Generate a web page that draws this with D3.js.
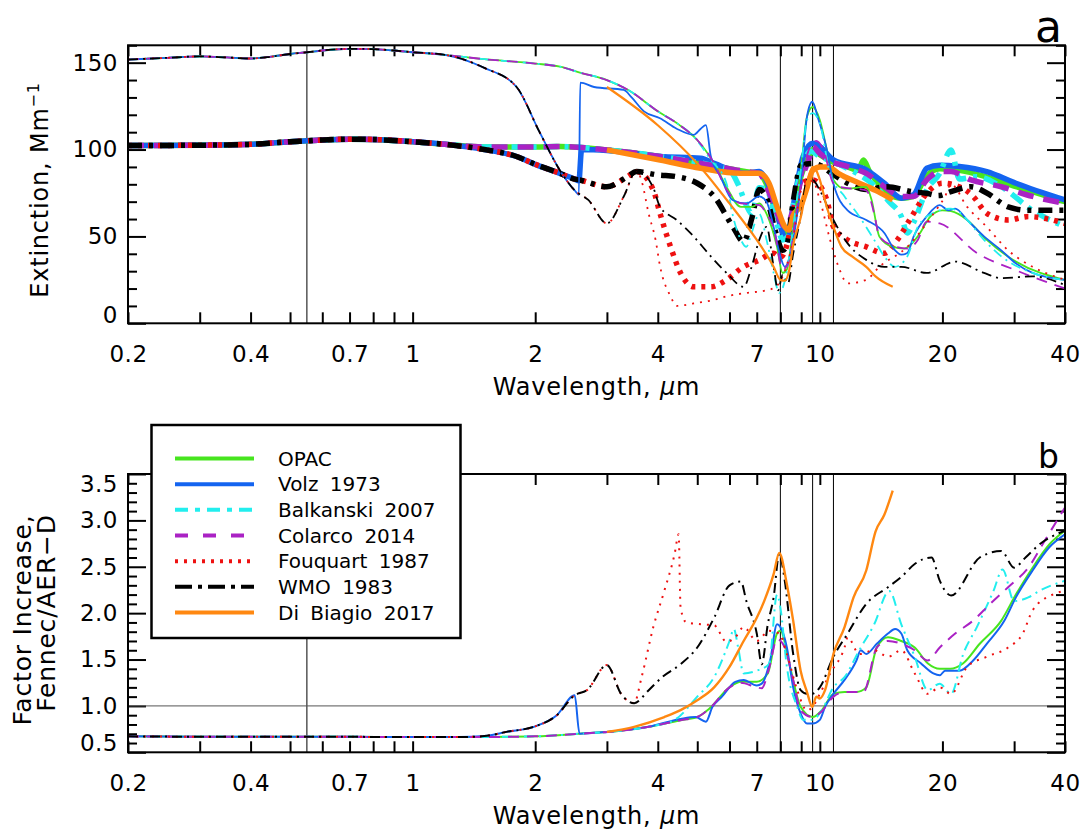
<!DOCTYPE html>
<html>
<head>
<meta charset="utf-8">
<script src="https://cdn.jsdelivr.net/npm/d3@7"></script>
<style>
  body { margin: 0; background: #fff; }
  text { font-family: "DejaVu Sans", sans-serif; fill: #000; }
</style>
</head>
<body>
<svg id="chart" width="1083" height="830"></svg>
<script>
// ---- data ----
const models = ["OPAC", "Volz 1973", "Balkanski 2007", "Colarco 2014", "Fouquart 1987", "WMO 1983", "Di Biagio 2017"];
const wavelengthTicks = [0.2, 0.3, 0.4, 0.5, 0.6, 0.7, 0.8, 0.9, 1, 2, 3, 4, 5, 6, 7, 8, 9, 10, 20, 30, 40];
const wavelengthLabels = [0.2, 0.4, 0.7, 1, 2, 4, 7, 10, 20, 40];
const extinctionLabels = [0, 50, 100, 150];
const factorLabels = [0.5, 1.0, 1.5, 2.0, 2.5, 3.0, 3.5];
const markerWavelengths = [0.55, 8.0, 9.6, 10.8];

// panel a, thin lines (upper group, Fennec) - shared short wavelength part
const fennecShort = [[0.2,151.8],[0.25,152.8],[0.3,153.6],[0.35,153],[0.4,152.4],[0.45,153.5],[0.5,155],[0.55,156],[0.6,157],[0.7,158],[0.8,157.8],[0.9,157],[1.0,156],[1.2,154.5]];
const fennecTop = [[1.5,152],[2.0,149.5],[2.3,147.7],[2.6,144],[3.0,140],[3.4,134],[4.0,122],[4.5,114.5]];
const fennecDrop = [[1.5,147],[1.8,136],[2.05,110],[2.3,88],[2.5,76.5]];

const opacFennec = [...fennecShort, ...fennecTop, [5.0,105.5],[5.5,92],[5.9,78.5],[6.4,67],[6.8,67],[7.1,69],[7.4,63],[7.85,44],[8.1,29],[8.3,31],[8.6,55.5],[9.0,90],[9.3,119],[9.6,124.5],[10,117],[10.4,100],[10.8,82.5],[11.5,77.5],[13,78.5],[13.4,71],[14,50],[15.1,44],[16.1,43],[17.4,50],[18.7,61.5],[20,65],[21,64.5],[23,59.5],[25.7,48],[30.3,35.5],[40,25]];
const volzFennec = [...fennecShort, ...fennecDrop, [2.56,74],[2.58,138.5],[2.79,136],[3.3,134.3],[3.45,130],[3.7,122],[4.05,118],[4.45,112],[4.9,108.5],[5.1,112],[5.25,114],[5.4,96],[5.7,84.5],[6.1,71],[6.6,69],[7.1,73],[7.4,70],[7.7,55.5],[8.0,38.5],[8.2,32.5],[8.6,48],[9.0,82.5],[9.3,119],[9.58,127.5],[9.9,118],[10.4,100],[10.8,80.5],[11.7,65],[13,59.5],[14.4,52],[15.3,42],[15.85,39.5],[16.4,40.5],[17,50],[18.3,61.5],[19.7,68],[20.7,65],[21.5,66],[23,59.5],[25.3,50],[27.9,42],[30.3,34.5],[33.3,29],[40,25]];
const balkanskiFennec = [...fennecShort, ...fennecTop, [4.9,107.5],[5.4,94],[5.9,80.5],[6.1,63],[6.4,48],[6.6,44],[6.8,52],[7.1,63],[7.4,48],[7.7,29],[7.95,17.5],[8.3,30],[8.6,55.5],[9.0,90],[9.3,117],[9.6,121],[10,115],[10.6,86],[11.5,73],[12.5,61.5],[13.6,48],[14.4,38.5],[15.3,32.5],[16.4,38.5],[17.4,55.5],[19,63.5],[20.9,66],[22,64],[23,59.5],[25.3,48],[27.9,38.5],[33.3,29],[40,25]];
const colarcoFennec = [...fennecShort, ...fennecTop, [5.0,105.5],[5.5,92],[5.9,77],[6.4,69],[6.8,68.5],[7.1,68],[7.4,63],[7.7,55],[8.1,31],[8.4,35],[8.7,60],[9.0,80],[9.4,100],[9.8,105],[10.2,100],[10.8,80.5],[11.2,78.5],[13,76.5],[13.6,63],[14,50],[15,45],[16.4,43],[17.4,48],[18.3,58.5],[19.7,57.5],[24.3,40.5],[30.3,30.5],[40,20]];
const fouquartFennec = [...fennecShort, ...fennecDrop, [2.7,71],[3.0,57.5],[3.3,73],[3.55,88],[3.65,82],[3.8,63],[3.95,48],[4.05,33],[4.3,15.5],[4.45,10],[4.9,11.5],[5.5,13.5],[5.9,15.5],[6.6,17.5],[7.4,19],[7.8,21],[8.2,30],[8.6,48],[9.0,76.5],[9.6,82],[10.0,71],[10.6,48],[11.2,30.5],[11.7,23],[13,25],[14,32.5],[16.4,44],[19,63],[20.3,73],[21,80],[23,67],[25.7,55.5],[29,42],[33.3,32.5],[40,25]];
const wmoFennec = [...fennecShort, ...fennecDrop, [2.7,71],[3.0,57.5],[3.3,73],[3.55,88],[3.9,78],[4.05,67],[4.45,59.5],[4.9,50],[5.4,38.5],[5.9,29],[6.5,21],[6.8,32.5],[7.1,48],[7.4,55.5],[7.7,32.5],[7.9,19],[8.1,28],[8.35,23],[8.6,40],[9.0,63],[9.3,82.5],[9.6,82.5],[10.0,76.5],[10.8,59.5],[11.7,46],[13,36.5],[14.4,32.5],[15.85,32.5],[18.3,29],[21.5,35.5],[25.3,29],[27.9,26],[33.3,27],[40,22]];
const diBiagioFennec = [[3.0,136],[4.0,114],[5.0,92],[6.0,69],[7.0,48],[7.7,32.6],[8.0,25],[8.2,24.5],[8.4,30],[8.6,45],[9.0,62],[9.3,80],[9.6,90],[9.8,88],[10,82.5],[10.4,67],[10.8,55.5],[11.3,44],[12,38.5],[13,32.5],[13.7,27],[15.1,21]];

// panel a, thick lines (lower group, AER-D)
const aerdShort = [[0.2,102.3],[0.3,102.5],[0.4,103],[0.5,104.5],[0.55,105],[0.6,105.5],[0.7,106],[0.8,105.8],[1.0,104.5],[1.2,103]];
const aerdTop = [[1.5,101.5],[2.0,101.5],[2.3,101.7],[3.0,99.8],[4.05,96],[5.4,91]];
const aerdDrop = [[1.5,100],[1.8,96],[2.0,91.5],[2.3,86.3],[2.5,83]];

const opacAerd = [...aerdShort, ...aerdTop, [6.6,87.3],[7.1,86.3],[7.4,80],[7.85,62],[8.2,53],[8.4,52],[8.6,62],[9.0,85],[9.5,98],[9.6,100],[10,97],[10.5,94],[11.7,90],[12.4,88],[12.8,94],[13.2,88],[13.7,82.5],[14.6,75],[15.85,72],[17,73],[18.3,85],[19.7,89],[22,88],[25,85],[30,79],[40,70]];
const volzAerd = [...aerdShort, ...aerdDrop, [2.56,82],[2.6,100],[3.0,99.5],[4.05,96],[5.1,95],[5.5,92],[6.6,86.3],[7.1,87.3],[7.4,82],[7.85,63.3],[8.1,52],[8.35,48],[8.6,67],[9.1,96],[9.6,103.6],[10,101.7],[10.8,94],[13,88.3],[14.4,80.6],[15.85,72],[17,74],[18.3,89.2],[19.7,91],[22,90.2],[25.7,87.3],[30.3,80.6],[40,71]];
const balkanskiAerd = [...aerdShort, ...aerdTop, [6.0,88],[6.3,80],[6.6,68],[6.8,63],[7.1,78],[7.4,77],[7.8,60],[8.1,48],[8.35,50],[8.6,68],[9.0,88],[9.5,99],[10,96],[10.8,93],[11.5,90],[12.4,86],[13.5,80],[14.8,70],[15.85,61.5],[16.4,52],[17,58],[18.3,76.7],[19.7,86.3],[21,99.8],[22,83],[24.3,84.4],[27.9,78.6],[33.3,65],[40,55.6]];
const colarcoAerd = [...aerdShort, ...aerdTop, [6.6,87.3],[7.1,86.3],[7.4,78.6],[7.85,63.3],[8.2,55.6],[8.4,58],[8.6,66],[9.0,82.5],[9.5,97.8],[9.6,101.7],[10,97.8],[10.5,94],[11.7,90.2],[13,86.3],[14.4,78.6],[15.85,73],[17,73],[18.3,82.5],[19.7,87.3],[21,87.3],[23.5,82.5],[27.9,78.6],[33.3,73],[40,69]];
const fouquartAerd = [...aerdShort, ...aerdDrop, [2.57,82.5],[3.0,78.6],[3.37,84.4],[3.55,87.3],[3.9,76.7],[4.05,63.3],[4.3,44],[4.55,29],[4.9,21],[5.4,21],[5.9,25],[6.5,32.6],[7.1,36.4],[7.7,40.3],[8.0,38],[8.3,45],[8.6,63.3],[9.0,80.6],[9.6,82.5],[10.4,71],[10.8,55.6],[11.7,48],[13,44],[14.4,40.3],[15.5,48],[16.8,61.4],[18.3,74.8],[20,80.6],[22,78.6],[23.8,73],[25.7,63.3],[29,59.5],[32.5,61.4],[40,57.5]];
const wmoAerd = [...aerdShort, ...aerdDrop, [2.57,82.5],[3.0,78.6],[3.37,84.4],[3.55,87.3],[4.0,85.4],[4.45,84.4],[5.0,80.6],[5.5,73],[6.1,56],[6.5,47],[6.8,60],[7.1,77],[7.4,72],[7.8,52],[8.1,42],[8.3,45],[8.6,70],[9.0,91],[9.6,92],[10,91],[10.7,86.3],[11.7,80.6],[13,77],[14.6,78.6],[16.8,75.8],[18.3,74.8],[19.5,73.5],[21,75.8],[23.5,78.6],[25.7,75],[29,67],[32.5,65],[40,65]];
const diBiagioAerd = [[3.0,99.8],[4.05,94],[5.1,89.2],[6.4,86.3],[7.1,86.3],[7.5,80.6],[7.85,67],[8.2,55.6],[8.4,53.7],[8.6,62],[9.0,68],[9.3,78],[9.6,88],[10,90],[10.5,90],[11.1,86.3],[12.5,80.6],[13.9,75.8],[15.1,71]];

// panel b, factor increase Fennec / AER-D
const ratioShort = [[0.2,0.672],[0.3,0.668],[0.5,0.668],[0.7,0.667],[1.0,0.664],[1.3,0.664]];
const ratioLow = [[1.5,0.665],[2.0,0.672],[2.57,0.70],[3.2,0.73],[3.8,0.775]];
const ratioRise = [[1.5,0.675],[1.7,0.72],[2.0,0.78],[2.26,0.9],[2.5,1.115]];

const opacRatio = [...ratioShort, ...ratioLow, [4.55,0.846],[5.0,0.88],[5.35,0.97],[6.0,1.2],[6.4,1.26],[7.0,1.26],[7.45,1.35],[7.85,1.78],[8.0,1.81],[8.45,1.42],[8.97,0.99],[9.6,0.88],[10.1,0.95],[10.8,1.13],[11.5,1.15],[12.3,1.15],[13,1.2],[13.8,1.63],[14.7,1.74],[15.85,1.7],[17.1,1.63],[18.4,1.46],[19.7,1.4],[20.9,1.4],[22.5,1.46],[24.7,1.67],[27.9,1.92],[30.3,2.2],[33.3,2.49],[36.6,2.74],[40,2.89]];
const volzRatio = [...ratioShort, ...ratioRise, [2.57,0.70],[3.0,0.72],[3.8,0.775],[4.55,0.86],[4.95,0.88],[5.25,0.83],[5.45,0.99],[5.75,1.1],[6.2,1.26],[6.5,1.28],[7.0,1.22],[7.2,1.24],[7.55,1.49],[7.85,1.88],[8.0,1.85],[8.3,1.63],[8.6,1.2],[8.97,0.92],[9.3,0.81],[9.6,0.81],[10,0.85],[10.3,0.99],[10.8,1.13],[11.5,1.28],[12.3,1.49],[12.6,1.6],[13,1.56],[13.8,1.67],[14.7,1.78],[15.3,1.83],[15.85,1.78],[16.4,1.6],[17.7,1.46],[19,1.35],[19.7,1.33],[20.3,1.38],[22,1.38],[23.8,1.49],[25.7,1.67],[28.4,1.92],[30.3,2.17],[33.3,2.46],[36.6,2.71],[40,2.85]];
const balkanskiRatio = [...ratioShort, ...ratioLow, [4.4,0.85],[5.0,1.1],[5.5,1.31],[6.0,1.7],[6.15,1.83],[6.3,1.63],[6.5,1.35],[7.0,1.38],[7.5,1.45],[7.85,2.2],[8.0,2.06],[8.3,1.42],[8.8,0.99],[9.1,0.85],[9.6,0.85],[10.1,0.95],[10.8,1.2],[11.5,1.31],[12.5,1.6],[13.6,1.88],[14.8,2.24],[15.85,1.88],[17.1,1.53],[18.4,1.17],[19.7,1.24],[21,1.13],[22.5,1.56],[24.3,1.85],[26.7,2.24],[28.1,2.47],[30,2.13],[32.5,2.17],[34.6,2.24],[40,2.35]];
const colarcoRatio = [...ratioShort, ...ratioLow, [4.55,0.846],[5.0,0.88],[5.35,0.97],[6.0,1.2],[6.4,1.25],[7.0,1.2],[7.2,1.19],[7.5,1.4],[7.85,1.72],[8.2,1.63],[8.6,1.28],[8.97,0.95],[9.6,0.88],[10.1,0.94],[10.8,1.1],[11.5,1.15],[12.8,1.15],[13.8,1.63],[14.7,1.7],[15.85,1.67],[17.1,1.6],[18.4,1.49],[19.7,1.63],[21.5,1.78],[23.8,1.92],[26.2,2.1],[29,2.28],[32.5,2.49],[36,2.81],[40,3.14]];
const fouquartRatio = [...ratioShort, ...ratioRise, [2.68,1.17],[3.0,1.44],[3.25,1.13],[3.5,1.03],[3.65,1.31],[3.9,1.85],[4.15,2.24],[4.4,2.64],[4.5,2.85],[4.55,2.06],[4.7,1.9],[5.1,1.88],[5.5,1.87],[5.9,1.69],[6.2,1.74],[6.5,1.85],[7.0,1.7],[7.5,1.81],[7.95,1.78],[8.3,1.56],[8.8,1.17],[9.3,0.95],[9.6,0.99],[10,1.13],[10.6,1.35],[11.5,1.63],[11.7,1.74],[12.5,1.56],[13.6,1.6],[14.7,1.53],[15.85,1.6],[17.1,1.35],[18.4,1.13],[19.7,1.2],[21,1.13],[23,1.42],[25.7,1.53],[29,1.63],[31.5,1.78],[33.3,2.03],[37.3,2.2],[40,2.24]];
const wmoRatio = [...ratioShort, ...ratioRise, [2.68,1.17],[3.0,1.44],[3.25,1.13],[3.5,1.03],[3.8,1.17],[4.1,1.31],[4.55,1.45],[5.0,1.63],[5.5,1.95],[6.0,2.3],[6.4,2.34],[6.6,2.13],[7.0,1.78],[7.2,1.45],[7.45,1.88],[7.7,2.17],[7.95,2.64],[8.2,2.35],[8.6,1.56],[8.97,1.17],[9.3,1.13],[9.58,1.13],[10.0,1.2],[10.8,1.53],[11.7,1.78],[13,2.1],[14.7,2.28],[15.85,2.39],[17.1,2.53],[18.8,2.6],[19.7,2.35],[21,2.19],[24.7,2.6],[27.9,2.67],[30,2.49],[32,2.6],[34.6,2.74],[40,2.89]];
const diBiagioRatio = [[3.0,0.72],[3.5,0.775],[4.15,0.88],[4.55,0.954],[5.0,1.06],[5.5,1.2],[6.0,1.42],[6.5,1.7],[7.0,1.95],[7.3,2.13],[7.7,2.42],[7.95,2.65],[8.3,2.31],[8.6,1.92],[8.97,1.38],[9.3,1.15],[9.58,0.99],[9.8,1.1],[10,1.08],[10.3,1.17],[10.8,1.56],[11.5,1.85],[12.1,2.17],[13,2.46],[13.7,2.88],[14.4,3.06],[15.1,3.32]];

const fennecSeries = [opacFennec, volzFennec, balkanskiFennec, colarcoFennec, fouquartFennec, wmoFennec, diBiagioFennec];
const aerdSeries = [opacAerd, volzAerd, balkanskiAerd, colarcoAerd, fouquartAerd, wmoAerd, diBiagioAerd];
const ratioSeries = [opacRatio, volzRatio, balkanskiRatio, colarcoRatio, fouquartRatio, wmoRatio, diBiagioRatio];

// ---- styles ----
const colors = ["#47e51f", "#1464f0", "#22eeee", "#aa22c4", "#ee1111", "#000000", "#ff8811"];
const lineStyles = ["solid", "solid", "dashdot", "dash", "dot", "dashdot", "solid"];
const legendDash = [null, null, "13,7,5,7", "13,15", "3,6", "17,6,4,6", null];

function dashFor(style, thick) {
    if (style === "dash") return thick ? "16,10" : "11,8";
    if (style === "dashdot") return thick ? "14,7,4,7" : "10,5,2,5";
    if (style === "dot") return thick ? "4,6" : "2,6";
    return null;
}

// ---- layout ----
const svg = d3.select("#chart");
const left = 128, right = 1065;
const x = d3.scaleLog().domain([0.2, 40]).range([left, right]);
const yA = d3.scaleLinear().domain([0, 160]).range([323.3, 45.3]);
const yB = d3.scaleLinear().domain([0.5, 3.5]).range([752.3, 474]);

const labelSet = new Set(wavelengthLabels);

svg.append("defs").selectAll("clipPath")
    .data([["clipA", yA], ["clipB", yB]])
    .enter().append("clipPath").attr("id", d => d[0])
    .append("rect")
    .attr("x", left).attr("y", d => d[1].range()[1])
    .attr("width", right - left).attr("height", d => d[1].range()[0] - d[1].range()[1]);

function styleAxis(g) {
    g.select(".domain").remove();
    g.selectAll("line").attr("stroke", "#000").attr("stroke-width", 2);
    g.attr("font-family", null).attr("font-size", null);
    g.selectAll("text").style("font-size", "23px").style("letter-spacing", "0.5px");
}

function drawFrame(y, clipId, yMinor, yMajor, yFormat) {
    const top = y.range()[1], bottom = y.range()[0];
    const g = svg.append("g");

    // reference lines
    g.selectAll("line.ref").data(markerWavelengths).enter().append("line")
        .attr("x1", d => x(d)).attr("x2", d => x(d))
        .attr("y1", top).attr("y2", bottom)
        .attr("stroke", "#000").attr("stroke-width", 1);

    // x axes (ticks inward)
    g.append("g").attr("transform", `translate(0,${bottom})`)
        .call(d3.axisBottom(x).tickValues(wavelengthTicks).tickSize(-11)
            .tickFormat(d => labelSet.has(d) ? d3.format("~g")(d) : ""))
        .call(styleAxis)
        .call(a => a.selectAll("text").attr("y", 38.5).attr("dy", 0));
    g.append("g").attr("transform", `translate(0,${top})`)
        .call(d3.axisTop(x).tickValues(wavelengthTicks).tickSize(-11).tickFormat(""))
        .call(styleAxis);

    // y axes
    g.append("g").attr("transform", `translate(${left},0)`)
        .call(d3.axisLeft(y).tickValues(yMinor).tickSize(-9).tickFormat(""))
        .call(styleAxis);
    const major = g.append("g").attr("transform", `translate(${left},0)`)
        .call(d3.axisLeft(y).tickValues(yMajor).tickSize(-18).tickFormat(yFormat))
        .call(styleAxis);
    major.selectAll("text").attr("x", -10);
    g.append("g").attr("transform", `translate(${right},0)`)
        .call(d3.axisRight(y).tickValues(yMinor).tickSize(-9).tickFormat(""))
        .call(styleAxis);
    g.append("g").attr("transform", `translate(${right},0)`)
        .call(d3.axisRight(y).tickValues(yMajor).tickSize(-18).tickFormat(""))
        .call(styleAxis);

    return { g, major, top, bottom };
}

function drawCurves(y, clipId, series, width, thick) {
    const line = d3.line()
        .x(d => x(d[0]))
        .y(d => y(d[1]))
        .curve(d3.curveMonotoneX);
    svg.append("g").attr("clip-path", `url(#${clipId})`)
        .selectAll("path").data(series).enter().append("path")
        .attr("d", line)
        .attr("fill", "none")
        .attr("stroke", (d, i) => colors[i])
        .attr("stroke-width", (d, i) => (i === 6 && !thick) ? width + 0.4 : width)
        .attr("stroke-dasharray", (d, i) => dashFor(lineStyles[i], thick))
        .attr("stroke-linejoin", "round");
}

// ---- panel a ----
const frameA = drawFrame(yA, "clipA", d3.range(0, 161, 10).filter(v => v % 50 !== 0), extinctionLabels, d3.format("d"));
frameA.major.selectAll(".tick text").filter(d => d === 0).attr("dy", "-0.05em");
drawCurves(yA, "clipA", aerdSeries, 5.5, true);
drawCurves(yA, "clipA", fennecSeries, 1.8, false);
svg.append("rect").attr("x", left).attr("y", frameA.top)
    .attr("width", right - left).attr("height", frameA.bottom - frameA.top)
    .attr("fill", "none").attr("stroke", "#000").attr("stroke-width", 2);

// ---- panel b ----
const minorB = d3.range(5, 36).map(v => v / 10).filter(v => Math.round(v * 10) % 5 !== 0);
const frameB = drawFrame(yB, "clipB", minorB, factorLabels, d3.format(".1f"));
frameB.major.selectAll(".tick text").filter(d => d === 0.5).attr("dy", "-0.08em");
frameB.major.selectAll(".tick text").filter(d => d === 3.5).attr("dy", "0.75em");
frameB.g.append("line")
    .attr("x1", left).attr("x2", right)
    .attr("y1", yB(1)).attr("y2", yB(1))
    .attr("stroke", "#555").attr("stroke-width", 1);
drawCurves(yB, "clipB", ratioSeries, 2, false);
svg.append("rect").attr("x", left).attr("y", frameB.top)
    .attr("width", right - left).attr("height", frameB.bottom - frameB.top)
    .attr("fill", "none").attr("stroke", "#000").attr("stroke-width", 2);

// ---- titles ----
[yA, yB].forEach(y => {
    const t = svg.append("text")
        .attr("x", (left + right) / 2).attr("y", y.range()[0] + 72)
        .attr("text-anchor", "middle").style("font-size", "24px").style("letter-spacing", "0.8px");
    t.append("tspan").text("Wavelength,  ");
    t.append("tspan").style("font-style", "italic").text("\u03bc");
    t.append("tspan").text("m");
});

const titleA = svg.append("text")
    .attr("transform", "translate(48,190) rotate(-90)")
    .attr("text-anchor", "middle").style("font-size", "24px").style("letter-spacing", "0.8px");
titleA.append("tspan").text("Extinction,  Mm");
titleA.append("tspan").attr("baseline-shift", "super").style("font-size", "16px").text("\u22121");

svg.append("text")
    .attr("transform", "translate(31,620) rotate(-90)")
    .attr("text-anchor", "middle").style("font-size", "25px").style("letter-spacing", "0.8px")
    .text("Factor  Increase,");
svg.append("text")
    .attr("transform", "translate(55,613) rotate(-90)")
    .attr("text-anchor", "middle").style("font-size", "25px").style("letter-spacing", "0.8px")
    .text("Fennec/AER\u2212D");

svg.append("text").attr("x", 1062).attr("y", 42).attr("text-anchor", "end")
    .style("font-size", "44px").text("a");
svg.append("text").attr("x", 1059).attr("y", 468).attr("text-anchor", "end")
    .style("font-size", "33px").text("b");

// ---- legend ----
const legend = svg.append("g");
legend.append("rect")
    .attr("x", 151.5).attr("y", 425).attr("width", 309).attr("height", 213)
    .attr("fill", "#fff").attr("stroke", "#000").attr("stroke-width", 2.5);
const rowY = d3.scaleLinear().domain([0, 6]).range([458.5, 612.5]);
const rows = legend.selectAll("g.row").data(models).enter().append("g");
rows.append("line")
    .attr("x1", 175).attr("x2", 254)
    .attr("y1", (d, i) => rowY(i)).attr("y2", (d, i) => rowY(i))
    .attr("stroke", (d, i) => colors[i]).attr("stroke-width", 4)
    .attr("stroke-dasharray", (d, i) => legendDash[i]);
rows.append("text")
    .attr("x", 278).attr("y", (d, i) => rowY(i))
    .attr("dy", "0.36em")
    .style("font-size", "20px").style("word-spacing", "5px")
    .text(d => d);
</script>
</body>
</html>
